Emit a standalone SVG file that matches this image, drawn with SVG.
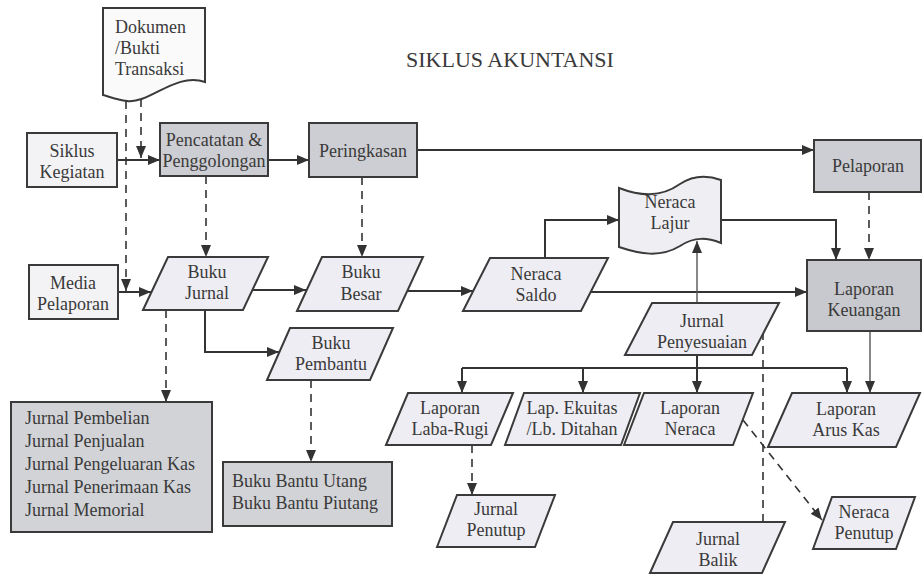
<svg xmlns="http://www.w3.org/2000/svg" width="923" height="576" viewBox="0 0 923 576">
<defs>
<marker id="ah" viewBox="0 0 12 10" refX="12" refY="5" markerWidth="12" markerHeight="10" markerUnits="userSpaceOnUse" orient="auto"><path d="M0,0 L12,5 L0,10 z" fill="#333"/></marker>
</defs>
<style>
text{font-family:"Liberation Serif","Times New Roman",serif;font-size:18px;fill:#3a3a3a}
.c{text-anchor:middle}
.gray{fill:#cdced3;stroke:#3a3a3a;stroke-width:2}
.light{fill:#f3f3f5;stroke:#3a3a3a;stroke-width:2}
.para{fill:#eeedf3;stroke:#3a3a3a;stroke-width:2}
.ln{fill:none;stroke:#333;stroke-width:2}
.thin{fill:none;stroke:#555;stroke-width:1.4}
.dash{fill:none;stroke:#333;stroke-width:1.6;stroke-dasharray:8 6}
</style>
<rect width="923" height="576" fill="#ffffff"/>
<text x="510" y="67" class="c" style="font-size:22px">SIKLUS AKUNTANSI</text>

<g id="connectors">
<path class="ln" d="M117,160 H160" marker-end="url(#ah)"/>
<path class="ln" d="M268,160 H309" marker-end="url(#ah)"/>
<path class="ln" d="M417,150 H814" marker-end="url(#ah)"/>
<path class="dash" d="M141,99 V158" marker-end="url(#ah)"/>
<path class="dash" d="M126,101 V291" marker-end="url(#ah)"/>
<path class="ln" d="M118,292 H151" marker-end="url(#ah)"/>
<path class="dash" d="M206,176 V257" marker-end="url(#ah)"/>
<path class="ln" d="M252,290 H306" marker-end="url(#ah)"/>
<path class="dash" d="M362,177 V257" marker-end="url(#ah)"/>
<path class="ln" d="M407,291 H473" marker-end="url(#ah)"/>
<path class="ln" d="M545,258 V220 H619" marker-end="url(#ah)"/>
<path class="ln" d="M591,292 H807" marker-end="url(#ah)"/>
<path class="ln" d="M721,220 H836 V260" marker-end="url(#ah)"/>
<path class="dash" d="M869,192 V260" marker-end="url(#ah)"/>
<path class="thin" d="M697,303 V241" marker-end="url(#ah)"/>
<path class="ln" d="M205,310 V352 H279" marker-end="url(#ah)"/>
<path class="dash" d="M166,310 V402" marker-end="url(#ah)"/>
<path class="dash" d="M311,380 V462" marker-end="url(#ah)"/>
<path class="ln" d="M697,355 V368 M462,368 H847"/>
<path class="ln" d="M462,368 V393" marker-end="url(#ah)"/>
<path class="ln" d="M583,368 V393" marker-end="url(#ah)"/>
<path class="ln" d="M697,368 V393" marker-end="url(#ah)"/>
<path class="ln" d="M847,368 V393" marker-end="url(#ah)"/>
<path class="thin" d="M870,331 V393" marker-end="url(#ah)"/>
<path class="dash" d="M472,445 V495" marker-end="url(#ah)"/>
<path class="dash" d="M763,332 V522"/>
<path class="dash" d="M743,420 L822,520" marker-end="url(#ah)"/>
</g>

<g id="dokumen">
<path d="M103,8 H205 V82 C175,72 150,104 127,101 C118,100 110,97 103,95 Z" fill="#fafafa" stroke="#3a3a3a" stroke-width="2"/>
<text x="115" y="33">Dokumen</text>
<text x="115" y="54">/Bukti</text>
<text x="115" y="75">Transaksi</text>
</g>

<g id="siklus-kegiatan">
<rect x="27" y="133" width="90" height="54" class="light"/>
<text x="72" y="157" class="c">Siklus</text>
<text x="72" y="178" class="c">Kegiatan</text>
</g>

<g id="pencatatan">
<rect x="160" y="123" width="108" height="53" class="gray"/>
<text x="214" y="146" class="c">Pencatatan &amp;</text>
<text x="214" y="167" class="c">Penggolongan</text>
</g>

<g id="peringkasan">
<rect x="309" y="123" width="108" height="54" class="gray"/>
<text x="363" y="157" class="c">Peringkasan</text>
</g>

<g id="pelaporan">
<rect x="814" y="140" width="107" height="52" class="gray"/>
<text x="868" y="172" class="c">Pelaporan</text>
</g>

<g id="media-pelaporan">
<rect x="29" y="265" width="89" height="54" class="light"/>
<text x="73" y="289" class="c">Media</text>
<text x="73" y="310" class="c">Pelaporan</text>
</g>

<g id="buku-jurnal">
<path d="M143,310 L168,257 H268 L243,310 Z" class="para"/>
<text x="207" y="278" class="c">Buku</text>
<text x="207" y="299" class="c">Jurnal</text>
</g>

<g id="buku-besar">
<path d="M297,311 L322,257 H423 L398,311 Z" class="para"/>
<text x="361" y="278" class="c">Buku</text>
<text x="361" y="300" class="c">Besar</text>
</g>

<g id="buku-pembantu">
<path d="M267,380 L290,328 H393 L370,380 Z" class="para"/>
<text x="331" y="349" class="c">Buku</text>
<text x="331" y="370" class="c">Pembantu</text>
</g>

<g id="neraca-saldo">
<path d="M463,311 L490,258 H608 L581,311 Z" class="para"/>
<text x="536" y="280" class="c">Neraca</text>
<text x="536" y="301" class="c">Saldo</text>
</g>

<g id="neraca-lajur">
<path d="M619,188 C640,196 660,198 680,184 C695,174 710,176 721,180 V243 C708,238 695,236 680,246 C660,258 640,254 619,247 Z" fill="#efeef3" stroke="#3a3a3a" stroke-width="2"/>
<text x="670" y="208" class="c">Neraca</text>
<text x="670" y="229" class="c">Lajur</text>
</g>

<g id="laporan-keuangan">
<rect x="807" y="260" width="114" height="71" class="gray" style="fill:#c8c9ce"/>
<text x="864" y="295" class="c">Laporan</text>
<text x="864" y="316" class="c">Keuangan</text>
</g>

<g id="jurnal-penyesuaian">
<path d="M625,355 L652,303 H779 L752,355 Z" class="para"/>
<text x="702" y="327" class="c">Jurnal</text>
<text x="702" y="348" class="c">Penyesuaian</text>
</g>

<g id="jurnal-khusus">
<rect x="11" y="402" width="201" height="130" class="gray" style="fill:#d2d3d7"/>
<text x="25" y="424">Jurnal Pembelian</text>
<text x="25" y="447">Jurnal Penjualan</text>
<text x="25" y="470">Jurnal Pengeluaran Kas</text>
<text x="25" y="493">Jurnal Penerimaan Kas</text>
<text x="25" y="516">Jurnal Memorial</text>
</g>

<g id="buku-bantu">
<rect x="223" y="462" width="169" height="64" class="gray" style="fill:#d2d3d7"/>
<text x="232" y="487">Buku Bantu Utang</text>
<text x="232" y="509">Buku Bantu Piutang</text>
</g>

<g id="laporan-laba-rugi">
<path d="M386,445 L408,393 H513 L491,445 Z" class="para"/>
<text x="450" y="414" class="c">Laporan</text>
<text x="450" y="435" class="c">Laba-Rugi</text>
</g>

<g id="lap-ekuitas">
<path d="M505,445 L524,393 H640 L621,445 Z" class="para"/>
<text x="572" y="414" class="c">Lap. Ekuitas</text>
<text x="572" y="435" class="c">/Lb. Ditahan</text>
</g>

<g id="laporan-neraca">
<path d="M624,445 L644,393 H753 L733,445 Z" class="para"/>
<text x="690" y="414" class="c">Laporan</text>
<text x="690" y="435" class="c">Neraca</text>
</g>

<g id="laporan-arus-kas">
<path d="M768,447 L792,393 H920 L896,447 Z" class="para"/>
<text x="846" y="415" class="c">Laporan</text>
<text x="846" y="436" class="c">Arus Kas</text>
</g>

<g id="jurnal-penutup">
<path d="M437,547 L457,495 H555 L535,547 Z" class="para"/>
<text x="496" y="515" class="c">Jurnal</text>
<text x="496" y="536" class="c">Penutup</text>
</g>

<g id="jurnal-balik">
<path d="M650,573 L673,522 H785 L762,573 Z" class="para"/>
<text x="718" y="545" class="c">Jurnal</text>
<text x="718" y="566" class="c">Balik</text>
</g>

<g id="neraca-penutup">
<path d="M813,549 L832,497 H915 L896,549 Z" class="para"/>
<text x="864" y="518" class="c">Neraca</text>
<text x="864" y="539" class="c">Penutup</text>
</g>
</svg>
